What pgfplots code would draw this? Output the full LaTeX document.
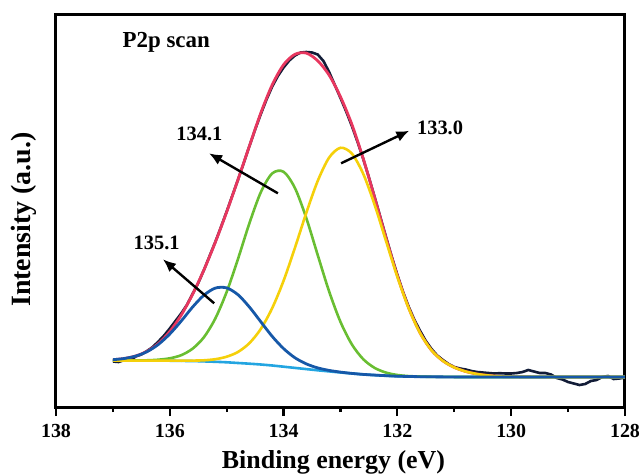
\documentclass[border=0pt]{standalone}
\usepackage{pgfplots}
\pgfplotsset{compat=1.18}
\usepackage{fontspec}
\setmainfont{Liberation Serif}
\usetikzlibrary{arrows.meta}
\definecolor{cRed}{RGB}{232,55,95}
\definecolor{cGreen}{RGB}{105,190,50}
\definecolor{cYellow}{RGB}{245,208,10}
\definecolor{cBlue}{RGB}{22,88,168}
\definecolor{cCyan}{RGB}{35,165,225}
\definecolor{cBlack}{RGB}{18,28,55}
\begin{document}
\begin{tikzpicture}
\begin{axis}[
  scale only axis, width=569bp, height=393bp,
  x dir=reverse, xmin=128, xmax=138, ymin=0, ymax=393,
  xtick={128,130,132,134,136,138}, minor x tick num=1,
  ytick=\empty, xtick pos=bottom, tick align=outside,
  major tick length=9bp, minor tick length=5bp,
  every tick/.style={line width=2.2bp, black},
  axis line style={line width=3bp},
  /pgf/number format/assume math mode=true,
  /pgf/number format/1000 sep={},
  ticklabel style={font=\fontsize{20}{22}\selectfont\bfseries},
  xticklabel style={yshift=-5bp},
  xlabel={Binding energy (eV)},
  ylabel={Intensity (a.u.)},
  xlabel style={font=\fontsize{26}{28}\selectfont\bfseries, at={(rel axis cs:0.5,0)}, anchor=center, yshift=-55bp, xshift=-7bp},
  ylabel style={font=\fontsize{28}{30}\selectfont\bfseries, at={(rel axis cs:0,0.477)}, anchor=center, yshift=32bp},
  clip=false,
]
% measured spectrum
\addplot[cBlack, line width=2.6bp] coordinates {
(137.0,45.5)(136.9,45.0)(136.8,47.0)(136.7,46.5)(136.6,50.5)(136.5,52.5)(136.4,56)(136.3,60)(136.2,65.5)(136.1,71.5)
(136.0,78.5)(135.9,86)(135.8,93.5)(135.7,102)(135.6,113)(135.5,124)(135.4,137)(135.3,151)(135.2,165)(135.1,180)
(135.0,195.5)(134.9,211.5)(134.8,227.5)(134.7,244)(134.6,261)(134.5,277.5)(134.4,293)(134.3,307.5)(134.2,320.5)(134.1,331)
(134.0,339.5)(133.9,346.5)(133.8,351.5)(133.7,354.5)(133.6,355)(133.5,354.5)(133.4,352.5)(133.3,346)(133.2,335)(133.1,322)
(133.0,309)(132.9,295.5)(132.8,281)(132.7,265)(132.6,248)(132.5,229.5)(132.4,210)(132.3,190)(132.2,170)(132.1,150.5)
(132.0,132)(131.9,115)(131.8,100)(131.7,87)(131.6,76)(131.5,66)(131.4,58)(131.3,51.5)(131.2,47)(131.1,43)
(131.0,40)(130.9,38.5)(130.8,37.5)(130.7,36)(130.6,35)(130.5,34.5)(130.4,34)(130.3,33.5)(130.2,33.8)(130.1,33.5)
(130.0,33.5)(129.9,34)(129.8,35)(129.7,37)(129.6,35.5)(129.5,34)(129.4,34)(129.3,32.5)(129.2,29)(129.1,27.5)
(129.0,25)(128.9,23.5)(128.8,22)(128.7,23)(128.6,26)(128.5,27)(128.4,30)(128.3,31)(128.2,28)(128.1,28.5)(128.0,29.5)
};
% envelope
\addplot[cRed, line width=2.8bp, smooth] coordinates {
(137.0,47.3)(136.8,48.5)(136.6,51.0)(136.4,55.7)(136.2,63.5)(136.0,75.5)(135.8,91.8)(135.6,112.6)(135.4,137.1)(135.2,164.8)
(135.0,195.1)(134.8,227.6)(134.6,261.1)(134.4,294.1)(134.2,322.1)(134.0,342.3)(133.8,352.7)(133.6,353.9)(133.4,346.2)(133.2,331.9)
(133.0,310.2)(132.8,282.6)(132.6,248.3)(132.4,209.4)(132.2,169.1)(132.0,131.2)(131.8,98.9)(131.6,74.0)(131.4,56.7)(131.2,46.1)
(131.0,39.6)(130.8,35.5)(130.6,33.0)(130.4,31.5)(130.2,30.6)(130.0,30.2)(129.0,30.0)(128.0,30.0)
};
% background
\addplot[cCyan, line width=2.6bp, smooth] coordinates {
(137.0,46.5)(136.6,46.45)(136.2,46.35)(136.0,46.3)(135.8,46.1)(135.6,45.95)(135.4,45.6)(135.2,45.2)(135.0,44.7)(134.8,44.0)
(134.6,43.3)(134.4,42.5)(134.2,41.5)(134.0,40.3)(133.8,39.1)(133.6,37.9)(133.4,36.7)(133.2,35.6)(133.0,34.5)(132.8,33.5)
(132.6,32.6)(132.4,31.9)(132.2,31.3)(132.0,30.8)(131.8,30.5)(131.6,30.3)(131.4,30.15)(131.0,30.05)(130.0,30.0)(128.0,30.0)
};
% 134.1 component
\addplot[cGreen, line width=2.6bp, smooth] coordinates {
(137.0,46.5)(136.6,46.6)(136.4,46.7)(136.2,47.3)(136.0,48.7)(135.8,51.8)(135.6,58.3)(135.4,69.8)(135.2,88.5)(135.0,115.1)
(134.8,148.3)(134.6,183.9)(134.4,214.8)(134.2,233.6)(134.0,235.2)(133.8,218.9)(133.6,188.8)(133.4,151.9)(133.2,115.6)(133.0,85.1)
(132.8,62.6)(132.6,47.8)(132.4,39.1)(132.2,34.4)(132.0,32.0)(131.8,30.9)(131.6,30.45)(131.4,30.2)(131.0,30.05)(130.0,30.0)(128.0,30.0)
};
% 133.0 component
\addplot[cYellow, line width=2.6bp, smooth] coordinates {
(137.0,46.5)(136.4,46.4)(136.0,46.4)(135.8,46.3)(135.6,46.4)(135.4,46.7)(135.2,47.8)(135.0,50.3)(134.8,55.1)(134.6,63.9)
(134.4,78.1)(134.2,98.9)(134.0,126.3)(133.8,159.3)(133.6,194.3)(133.4,226.1)(133.2,249.4)(133.0,259.2)(132.8,253.4)(132.6,233.1)
(132.4,202.2)(132.2,166.0)(132.0,130.0)(131.8,98.5)(131.6,73.8)(131.4,56.7)(131.2,46.1)(131.0,39.55)(130.8,35.5)(130.6,33.0)
(130.4,31.5)(130.2,30.6)(130.0,30.2)(129.0,30.0)(128.0,30.0)
};
% 135.1 component
\addplot[cBlue, line width=2.8bp, smooth] coordinates {
(137.0,47.3)(136.8,48.5)(136.6,50.9)(136.4,55.3)(136.2,62.6)(136.0,73.0)(135.8,85.9)(135.6,99.9)(135.4,111.8)(135.2,118.9)
(135.0,119.1)(134.8,112.2)(134.6,99.9)(134.4,85.2)(134.2,70.6)(134.0,58.4)(133.8,49.2)(133.6,43.1)(133.4,39.1)(133.2,36.6)
(133.0,34.9)(132.8,33.6)(132.6,32.6)(132.4,31.9)(132.2,31.3)(132.0,30.8)(131.6,30.3)(131.0,30.05)(130.0,30.0)(128.0,30.0)
};
% annotations
\node[anchor=base west, font=\fontsize{23}{25}\selectfont\bfseries] at (axis cs:136.89,360) {P2p scan};
\draw[line width=2.4bp, -{Latex[length=13bp,width=11bp]}] (axis cs:134.10,213.7) -- (axis cs:135.31,253.7);
\node[anchor=base, font=\fontsize{20.5}{22}\selectfont\bfseries] at (axis cs:135.48,267) {134.1};
\draw[line width=2.4bp, -{Latex[length=13bp,width=11bp]}] (axis cs:135.22,103.7) -- (axis cs:136.12,147.7);
\node[anchor=base, font=\fontsize{20.5}{22}\selectfont\bfseries] at (axis cs:136.23,158) {135.1};
\draw[line width=2.4bp, -{Latex[length=13bp,width=11bp]}] (axis cs:132.99,243.7) -- (axis cs:131.79,276.3);
\node[anchor=base, font=\fontsize{20.5}{22}\selectfont\bfseries] at (axis cs:131.25,273) {133.0};
\end{axis}
\pgfresetboundingbox
\path[use as bounding box] ([xshift=-56bp,yshift=-67bp]current axis.south west) rectangle ([xshift=18bp,yshift=14bp]current axis.north east);
\end{tikzpicture}
\end{document}
